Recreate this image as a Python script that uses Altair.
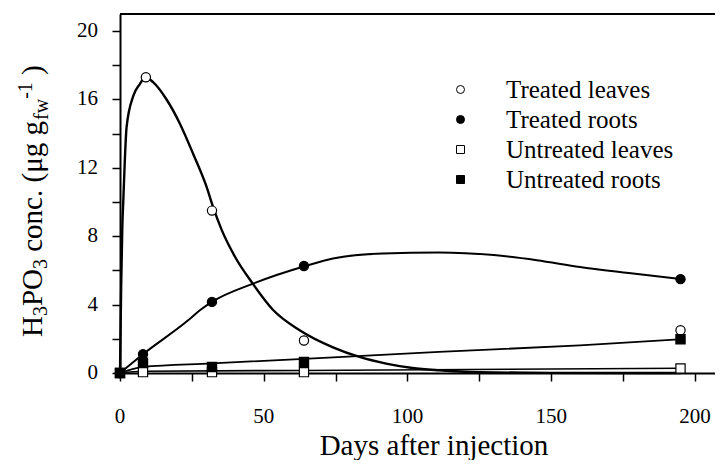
import altair as alt
import pandas as pd

# ---------------- data ----------------
series_names = ["Treated leaves", "Treated roots", "Untreated leaves", "Untreated roots"]

# measured points (days after injection, µg/g fw)
tl_days = [0, 9, 32, 64, 195]
tl_vals = [0, 17.3, 9.5, 1.9, 2.5]
tr_days = [0, 8, 32, 64, 195]
tr_vals = [0, 1.1, 4.16, 6.26, 5.49]
ul_days = [0, 8, 32, 64, 195]
ul_vals = [0, 0.05, 0.05, 0.05, 0.26]
ur_days = [0, 8, 32, 64, 195]
ur_vals = [0, 0.6, 0.35, 0.64, 1.97]

# fitted curves
tl_curve_days = [0, 0.4, 0.8, 1.15, 2.3, 4.6, 6.9, 8.8, 11.6, 16.2, 20.8, 25.5, 30.1, 32.4,
                 35.3, 40, 46.3, 53.2, 62.5, 74.1, 83.3, 92.6, 101.8, 111, 125, 150, 195]
tl_curve_vals = [0, 5, 8.5, 10.1, 14.4, 16.2, 16.9, 17.3, 17.0, 16.0, 14.6, 12.8, 10.9, 9.7,
                 8.4, 6.8, 5.2, 3.7, 2.5, 1.5, 0.94, 0.55, 0.29, 0.16, 0.05, 0.01, 0]
tr_curve_days = [0, 8, 23.7, 27.8, 32, 46.3, 64.5, 74.1, 91.4, 111, 130, 145, 160, 177, 195]
tr_curve_vals = [0, 1.1, 3.08, 3.67, 4.16, 5.23, 6.26, 6.7, 6.99, 7.05, 6.9, 6.6, 6.2, 5.85, 5.5]
ul_curve_days = [0, 8, 64, 195]
ul_curve_vals = [0, 0.1, 0.15, 0.28]
ur_curve_days = [0, 8, 32, 64, 111, 160, 195]
ur_curve_vals = [0, 0.36, 0.56, 0.83, 1.23, 1.62, 1.97]

x_ticks = [0, 25, 50, 75, 100, 125, 150, 175, 200]
y_ticks = [0, 2, 4, 6, 8, 10, 12, 14, 16, 18, 20]
x_labels = [0, 50, 100, 150, 200]
y_labels = [0, 4, 8, 12, 16, 20]
x_title = "Days after injection"

# ---------------- layout ----------------
FONT = "Liberation Serif"
W, H = 595, 359
XMAX, YMAX = 207, 21

pts = pd.DataFrame({
    "day": tl_days + tr_days + ul_days + ur_days,
    "val": tl_vals + tr_vals + ul_vals + ur_vals,
    "series": [series_names[0]] * len(tl_days) + [series_names[1]] * len(tr_days)
              + [series_names[2]] * len(ul_days) + [series_names[3]] * len(ur_days),
})

xscale = alt.Scale(domain=[0, XMAX], nice=False, zero=False)
yscale = alt.Scale(domain=[0, YMAX], nice=False)

xaxis = alt.Axis(values=x_ticks, labels=False, tickSize=8, tickWidth=1.5, tickColor="black",
                 domainColor="black", domainWidth=2, grid=False, title=None)
yaxis = alt.Axis(values=y_ticks, labels=False, tickSize=8, tickWidth=1.5, tickColor="black",
                 domainColor="black", domainWidth=2, grid=False, title=None)
X = alt.X("day:Q", scale=xscale, axis=xaxis)
Y = alt.Y("val:Q", scale=yscale, axis=yaxis)

layers = []

# frame: top border
top = alt.Chart(pd.DataFrame({"day": [0], "val": [YMAX]})).mark_rule(
    color="black", strokeWidth=2).encode(x=X, x2=alt.value(W), y=Y)
layers.append(top)

curves = [
    (tl_curve_days, tl_curve_vals, 2.4),
    (tr_curve_days, tr_curve_vals, 2.0),
    (ul_curve_days, ul_curve_vals, 1.6),
    (ur_curve_days, ur_curve_vals, 1.8),
]
for d, v, sw in curves:
    df = pd.DataFrame({"day": d, "val": v})
    layers.append(
        alt.Chart(df).mark_line(color="black", strokeWidth=sw, interpolate="monotone").encode(
            x=X, y=Y)
    )

legend = alt.Legend(title=None, orient="none", legendX=328, legendY=63, padding=0,
                    labelFont=FONT, labelFontSize=25, labelColor="black", labelOffset=33,
                    rowPadding=4, symbolSize=64, symbolStrokeColor="black",
                    symbolStrokeWidth=1, labelLimit=400)

points = alt.Chart(pts).mark_point(filled=True, size=85, strokeWidth=1.2,
                                   opacity=1).encode(
    x=X, y=Y,
    shape=alt.Shape("series:N", scale=alt.Scale(domain=series_names,
                    range=["circle", "circle", "square", "square"]), legend=legend),
    fill=alt.Fill("series:N", scale=alt.Scale(domain=series_names,
                  range=["white", "black", "white", "black"]), legend=legend),
    stroke=alt.Stroke("series:N", scale=alt.Scale(domain=series_names,
                      range=["black", "black", "black", "black"]), legend=legend),
)
layers.append(points)

# tick labels as text, placed through the scales
xl = alt.Chart(pd.DataFrame({"day": x_labels, "lab": [str(v) for v in x_labels]})).mark_text(
    font=FONT, fontSize=21, color="black", baseline="top", align="center").encode(
    x=X, y=alt.value(H + 33), text="lab:N")
yl = alt.Chart(pd.DataFrame({"val": y_labels, "lab": [str(v) for v in y_labels]})).mark_text(
    font=FONT, fontSize=21, color="black", baseline="middle", align="right").encode(
    y=Y, x=alt.value(-22), text="lab:N")
xt = alt.Chart(pd.DataFrame({"t": [x_title]})).mark_text(
    font=FONT, fontSize=29, color="black", baseline="alphabetic", align="center").encode(
    x=alt.value(314), y=alt.value(H + 82), text="t:N")
layers += [xl, yl, xt]

# y-axis title with sub/superscripts, built from pieces (rotated)
F, f = 29, 20
widths = {'H': 0.722, '3': 0.5, 'P': 0.556, 'O': 0.722, ' ': 0.25, 'c': 0.444, 'o': 0.5,
          'n': 0.5, '.': 0.25, '(': 0.333, 'μ': 0.576, 'g': 0.5, 'f': 0.333, 'w': 0.722,
          '-': 0.333, '1': 0.5, ')': 0.333}
pieces = [("H", F, 0), ("3", f, 5), ("PO", F, 0), ("3", f, 5), (" conc. (μg g", F, 0),
          ("fw", f, 6), ("-1", f, -10), (" )", F, 0)]
base_x = 42 - 120
cur_y = 337 - 14
for txt, size, shift in pieces:
    lead = len(txt) - len(txt.lstrip(" "))
    cur_y -= lead * widths[' '] * size
    core = txt.strip(" ")
    df = pd.DataFrame({"t": [core]})
    layers.append(
        alt.Chart(df).mark_text(angle=270, align="left", baseline="alphabetic",
                                font=FONT, fontSize=size, color="black").encode(
            text="t:N", x=alt.value(base_x + shift), y=alt.value(cur_y))
    )
    cur_y -= sum(widths[c] for c in core) * size

chart = alt.layer(*layers).properties(
    width=W, height=H,
    autosize=alt.AutoSizeParams(type="none"),
    padding={"left": 112, "top": 6, "right": 0, "bottom": 87},
    background="white",
).configure(font=FONT).configure_view(stroke=None)

chart.save("out.html", embed_options={"renderer": "svg", "actions": False})
